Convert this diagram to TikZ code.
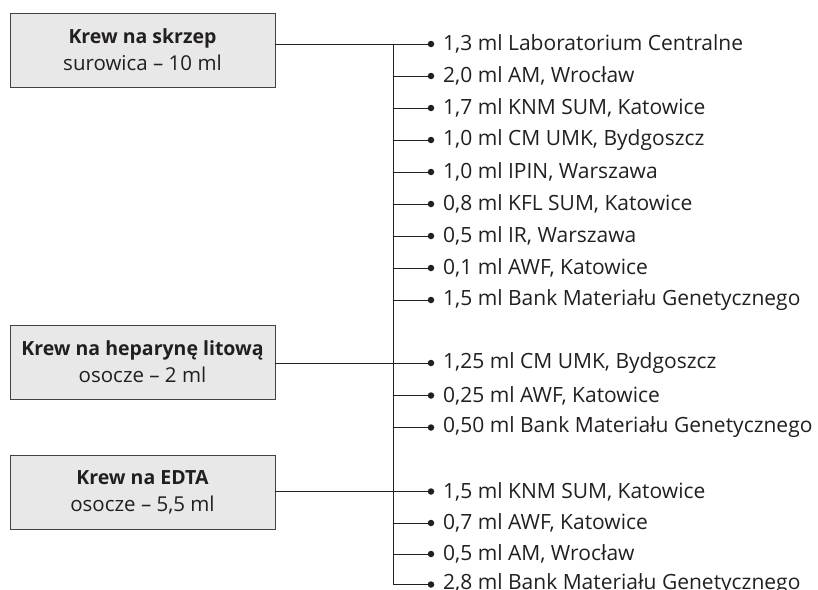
\documentclass[tikz,border=0pt]{standalone}
\usepackage{fontspec}
\setmainfont{Open Sans}
\usetikzlibrary{arrows.meta}
\definecolor{ink}{HTML}{231F20}
\definecolor{boxfill}{HTML}{E8E8E8}
\begin{document}
\begin{tikzpicture}[x=1pt,y=-1pt,
  srcbox/.style={draw=ink!85, line width=0.9pt, fill=boxfill, minimum width=265pt, minimum height=74pt, align=center, text=ink, font=\fontsize{20.5}{27}\selectfont, inner sep=0pt},
  item/.style={anchor=west, inner sep=0pt, text=ink, font=\fontsize{21}{24}\selectfont},
  dot/.style={circle, fill=ink, inner sep=0pt, minimum size=6.5pt},
  link/.style={draw=ink, line width=1pt}]
\useasboundingbox (0,0) rectangle (818,589);
\node[srcbox] (b1) at (142.5,50) {{\fontsize{19.5}{27}\selectfont\bfseries Krew na skrzep}\\surowica – 10 ml};
\node[srcbox] (b2) at (142.5,362) {{\fontsize{19.5}{27}\selectfont\bfseries Krew na heparynę litową}\\osocze – 2 ml};
\node[srcbox] (b3) at (142.5,492.5) {{\fontsize{19.5}{27}\selectfont\bfseries Krew na EDTA}\\osocze – 5,5 ml};
\coordinate (trunk) at (393,0);
\foreach \n/\y/\t in {
  1/44/{1,3 ml Laboratorium Centralne},
  2/76/{2,0 ml AM, Wrocław},
  3/108/{1,7 ml KNM SUM, Katowice},
  4/140/{1,0 ml CM UMK, Bydgoszcz},
  5/172/{1,0 ml IPIN, Warszawa},
  6/204/{0,8 ml KFL SUM, Katowice},
  7/236/{0,5 ml IR, Warszawa},
  8/268/{0,1 ml AWF, Katowice},
  9/300/{1,5 ml Bank Materiału Genetycznego},
  10/363/{1,25 ml CM UMK, Bydgoszcz},
  11/395.5/{0,25 ml AWF, Katowice},
  12/427.5/{0,50 ml Bank Materiału Genetycznego},
  13/491.5/{1,5 ml KNM SUM, Katowice},
  14/523/{0,7 ml AWF, Katowice},
  15/554/{0,5 ml AM, Wrocław},
  16/584.5/{2,8 ml Bank Materiału Genetycznego}}{
  \node[dot] (d\n) at (431,\y) {};
  \node[item] (i\n) at (443,\y) {\t};
}
\draw[link] (b1.east |- d1) -- (d1);
\draw[link] (b2.east |- d10) -- (d10);
\draw[link] (b3.east |- d13) -- (d13);
\draw[link] (trunk |- d1) -- (trunk |- d16) -- (d16);
\foreach \n in {2,...,9,11,12,14,15}{
  \draw[link] (trunk |- d\n) -- (d\n);
}
\end{tikzpicture}
\end{document}
